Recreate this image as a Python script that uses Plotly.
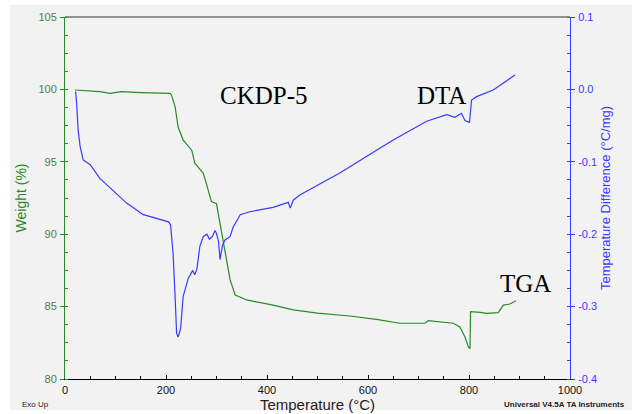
import plotly.graph_objects as go

# TGA: weight (%) vs temperature (°C)
tga_temp = [20, 69, 89, 112, 150, 208, 211, 218, 224, 234, 251, 254, 257, 274, 284, 290,
            300, 307, 317, 327, 337, 360, 412, 452, 500, 564, 620, 663, 713, 719, 769,
            782, 792, 799, 802, 803, 822, 835, 858, 868, 881, 886, 893]
tga_weight = [99.96, 99.84, 99.73, 99.84, 99.78, 99.73, 99.6, 98.8, 97.4, 96.5, 95.8, 95.35,
              94.9, 94.2, 93.05, 92.25, 92.1, 90.75, 88.7, 86.84, 85.8, 85.46, 85.1, 84.77,
              84.55, 84.35, 84.1, 83.85, 83.85, 84.03, 83.85, 83.6, 82.9, 82.2, 82.1,
              84.65, 84.6, 84.53, 84.58, 85.1, 85.18, 85.25, 85.4]

# DTA: temperature difference (°C/mg) vs temperature (°C)
dta_temp = [21, 23, 26, 30, 36, 50, 69, 96, 122, 155, 188, 205, 209, 214, 218, 221, 224,
            229, 234, 244, 253, 257, 261, 267, 274, 281, 286, 292, 297, 300, 304, 307,
            312, 317, 327, 333, 347, 366, 412, 442, 446, 452, 465, 521, 545, 624, 650,
            716, 756, 772, 785, 792, 801, 805, 815, 848, 891]
dta_diff = [-0.003, -0.019, -0.056, -0.079, -0.0975, -0.104, -0.123, -0.141, -0.157,
            -0.173, -0.179, -0.183, -0.187, -0.226, -0.286, -0.337, -0.342, -0.330,
            -0.286, -0.261, -0.250, -0.256, -0.249, -0.217, -0.203, -0.200, -0.207,
            -0.203, -0.195, -0.199, -0.210, -0.235, -0.215, -0.208, -0.203, -0.190,
            -0.173, -0.169, -0.163, -0.156, -0.164, -0.153, -0.146, -0.125, -0.115,
            -0.081, -0.070, -0.044, -0.035, -0.0385, -0.033, -0.043, -0.0455, -0.0147,
            -0.010, -0.0008, 0.0199]

GREEN = "#2a8a2a"
BLUE = "#3a3aff"
BG = "#f2f2f2"
SANS = "Liberation Sans, Arial"
SERIF = "Liberation Serif, Times New Roman"

fig = go.Figure()
fig.add_trace(go.Scatter(x=tga_temp, y=tga_weight, mode="lines",
                         line=dict(color=GREEN, width=1.2), yaxis="y", showlegend=False))
fig.add_trace(go.Scatter(x=dta_temp, y=dta_diff, mode="lines",
                         line=dict(color=BLUE, width=1.2), yaxis="y2", showlegend=False))

fig.update_layout(
    width=632, height=414,
    margin=dict(l=65, r=62, t=17, b=35, autoexpand=False),
    paper_bgcolor="white",
    plot_bgcolor=BG,
    xaxis=dict(
        range=[0, 1000], tickvals=[0, 200, 400, 600, 800, 1000], automargin=False,
        showgrid=False, zeroline=False, showline=True, linecolor="black", linewidth=1,
        ticks="inside", ticklen=4, tickcolor="black", ticklabelstandoff=1,
        minor=dict(dtick=50, ticks="inside", ticklen=3, tickcolor="black", showgrid=False),
        tickfont=dict(family=SANS, size=11, color="#111"),
        title=dict(text="Temperature (°C)", standoff=3,
                   font=dict(family=SANS, size=15, color="#2a1a1a")),
    ),
    yaxis=dict(
        range=[80, 105], tickvals=[80, 85, 90, 95, 100, 105], automargin=False,
        showgrid=False, zeroline=False, showline=True, linecolor=GREEN, linewidth=1,
        ticks="outside", ticklen=4, tickcolor=GREEN, ticklabelstandoff=1,
        minor=dict(dtick=1.25, tick0=80, ticks="inside", ticklen=3, tickcolor=GREEN, showgrid=False),
        tickfont=dict(family=SANS, size=11, color="#4f7f3f"),
        title=dict(text="Weight (%)", standoff=8,
                   font=dict(family=SANS, size=14, color=GREEN)),
    ),
    yaxis2=dict(
        range=[-0.4, 0.1], tickvals=[-0.4, -0.3, -0.2, -0.1, 0.0, 0.1], automargin=False,
        ticktext=["-0.4", "-0.3", "-0.2", "-0.1", "0.0", "0.1"],
        overlaying="y", side="right",
        showgrid=False, zeroline=False, showline=True, linecolor=BLUE, linewidth=1,
        ticks="outside", ticklen=4, tickcolor=BLUE, ticklabelstandoff=1,
        minor=dict(dtick=0.025, tick0=-0.4, ticks="inside", ticklen=3, tickcolor=BLUE, showgrid=False),
        tickfont=dict(family=SANS, size=11, color=BLUE),
        title=dict(text="Temperature Difference (°C/mg)", standoff=4,
                   font=dict(family=SANS, size=13, color=BLUE)),
    ),
    shapes=[
        dict(type="rect", xref="paper", yref="paper", x0=-0.109, x1=1.13, y0=-0.086, y1=1.034,
             fillcolor=BG, line=dict(width=0), layer="below"),
        dict(type="line", xref="paper", yref="paper", x0=0, x1=1, y0=1, y1=1,
             line=dict(color="#707070", width=1.5)),
    ],
    annotations=[
        dict(x=394, y=99.6, xref="x", yref="y", text="CKDP-5", showarrow=False,
             font=dict(family=SERIF, size=25, color="black")),
        dict(x=745, y=99.6, xref="x", yref="y", text="DTA", showarrow=False,
             font=dict(family=SERIF, size=25, color="black")),
        dict(x=911, y=86.6, xref="x", yref="y", text="TGA", showarrow=False,
             font=dict(family=SERIF, size=25, color="black")),
        dict(x=-0.059, y=-0.07, xref="paper", yref="paper", text="Exo Up", showarrow=False,
             xanchor="center", yanchor="middle",
             font=dict(family=SANS, size=8, color="#222")),
        dict(x=1.113, y=-0.07, xref="paper", yref="paper", xanchor="right", yanchor="middle",
             text="<b>Universal V4.5A TA Instruments</b>", showarrow=False,
             font=dict(family=SANS, size=8, color="#222")),
    ],
)

fig.write_html("out.html")
